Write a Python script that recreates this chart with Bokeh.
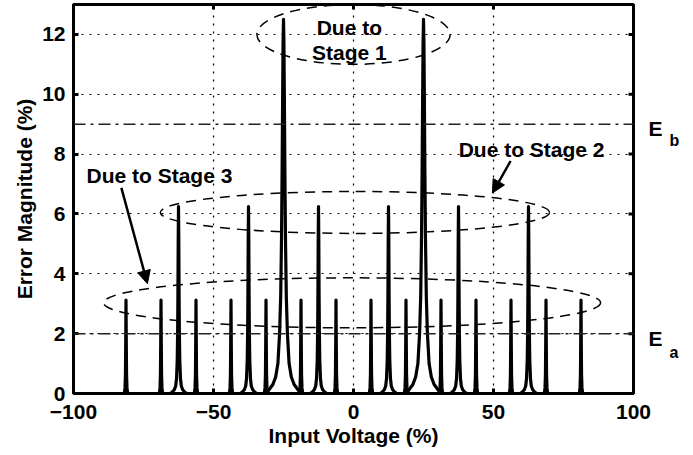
import math
from bokeh.plotting import figure
from bokeh.models import (Range1d, LinearAxis, FixedTicker, Label, Arrow,
                          NormalHead, Span)
from bokeh.embed import file_html
from bokeh.resources import INLINE

# ---------------- data ----------------
stage1_x = [-25.0, 25.0]
stage1_h = 12.5
stage2_x = [-62.5, -37.5, -12.5, 12.5, 37.5, 62.5]
stage2_h = 6.25
stage3_x = [-81.25, -68.75, -56.25, -43.75, -31.25, -18.75,
            -6.25, 6.25, 18.75, 31.25, 43.75, 56.25, 68.75, 81.25]
stage3_h = 3.125

# half-profiles of the spikes: offset from peak (% voltage), fraction of peak height
prof1_dx = [0.0, 0.15, 0.3, 0.5, 0.7, 1.0, 1.4, 2.0, 2.8, 3.8, 5.0, 6.0]
prof1_fr = [1.0, 0.94, 0.80, 0.59, 0.42, 0.26, 0.16, 0.08, 0.044, 0.024, 0.012, 0.0]
prof2_dx = [0.0, 0.1, 0.2, 0.3, 0.45, 0.7, 1.0, 1.5, 2.2, 3.0]
prof2_fr = [1.0, 0.83, 0.55, 0.34, 0.18, 0.08, 0.04, 0.02, 0.008, 0.0]
prof3_dx = [0.0, 0.1, 0.2, 0.35, 0.6]
prof3_fr = [1.0, 0.55, 0.2, 0.06, 0.0]

Ea = 2.0
Eb = 9.0
E_names = ["E", "E"]
E_subs = ["b", "a"]

X_MIN, X_MAX = -100, 100
Y_MIN, Y_MAX = 0, 13
x_ticks = [-100, -50, 0, 50, 100]
x_tick_labels = ["\u2212100", "\u221250", "0", "50", "100"]
y_ticks = [0, 2, 4, 6, 8, 10, 12]
x_grid = [-50, 0, 50]
y_grid = [2, 4, 6, 8, 10, 12]

# ellipses: center x, center y, width, height (data units)
ell_x = [0.0, 0.5, -0.5]
ell_y = [12.0, 6.05, 3.03]
ell_w = [69.0, 139.0, 177.5]
ell_h = [2.0, 1.4, 1.67]

FONT = "Liberation Sans"


def spikes(centers, h, dx, fr):
    xs, ys = [], []
    for c in centers:
        left_x = [c - d for d in reversed(dx)]
        left_y = [h * f for f in reversed(fr)]
        right_x = [c + d for d in dx[1:]]
        right_y = [h * f for f in fr[1:]]
        xs.append(left_x + right_x)
        ys.append(left_y + right_y)
    return xs, ys


p = figure(width=693, height=455, output_backend="svg", toolbar_location=None,
           x_range=Range1d(X_MIN, X_MAX), y_range=Range1d(Y_MIN, Y_MAX),
           min_border_left=73, min_border_right=60, min_border_top=4,
           min_border_bottom=62)
p.background_fill_color = "white"
p.border_fill_color = "white"
p.outline_line_color = "black"
p.outline_line_width = 3

# grid
p.xgrid.ticker = FixedTicker(ticks=x_grid)
p.ygrid.ticker = FixedTicker(ticks=y_grid)
for g in (p.xgrid, p.ygrid):
    g.grid_line_color = "black"
    g.grid_line_dash = "2 6"
    g.grid_line_width = 1.2

# axes
for ax in (p.xaxis[0], p.yaxis[0]):
    ax.axis_line_width = 3
    ax.major_tick_in = 5
    ax.major_tick_out = 0
    ax.major_tick_line_width = 3
    ax.minor_tick_line_color = None
    ax.major_label_text_font = FONT
    ax.major_label_text_font_style = "bold"
    ax.major_label_text_font_size = "21px"
    ax.major_label_text_color = "black"
    ax.axis_label_text_font = FONT
    ax.axis_label_text_font_style = "bold"
    ax.axis_label_text_font_size = "21px"
    ax.axis_label_text_color = "black"

p.xaxis.ticker = FixedTicker(ticks=x_ticks)
p.xaxis.major_label_overrides = {t: l for t, l in zip(x_ticks, x_tick_labels)}
p.xaxis.major_label_standoff = 11
p.xaxis.axis_label = "Input Voltage (%)"
p.xaxis.axis_label_standoff = 2
p.yaxis.ticker = FixedTicker(ticks=y_ticks)
p.yaxis.major_label_standoff = 8
p.yaxis.axis_label = "Error Magnitude (%)"
p.yaxis.axis_label_standoff = 3

# mirrored inward ticks on top and right (dash markers clipped by the frame)
p.scatter(x=x_grid, y=[Y_MAX] * len(x_grid), marker="dash", size=10,
          angle=math.pi / 2, line_color="black", line_width=3)
p.scatter(x=[X_MAX] * len(y_ticks), y=y_ticks, marker="dash", size=10,
          line_color="black", line_width=3)

# E labels (as right-side axis labels so they sit outside the frame)
e_ticks = [Eb - 0.15, Ea - 0.15]
e_ax = LinearAxis(ticker=FixedTicker(ticks=e_ticks),
                  major_label_overrides={t: n for t, n in zip(e_ticks, E_names)},
                  major_label_standoff=15, axis_line_color=None,
                  major_tick_in=0, major_tick_out=0,
                  minor_tick_in=0, minor_tick_out=0,
                  major_tick_line_color=None, minor_tick_line_color=None,
                  major_label_text_font=FONT, major_label_text_font_style="bold",
                  major_label_text_font_size="21px", major_label_text_color="black")
p.add_layout(e_ax, "right")
s_ticks = [Eb - 0.55, Ea - 0.62]
s_ax = LinearAxis(ticker=FixedTicker(ticks=s_ticks),
                  major_label_overrides={t: n for t, n in zip(s_ticks, E_subs)},
                  major_label_standoff=4, axis_line_color=None,
                  major_tick_in=0, major_tick_out=0,
                  minor_tick_in=0, minor_tick_out=0,
                  major_tick_line_color=None, minor_tick_line_color=None,
                  major_label_text_font=FONT, major_label_text_font_style="bold",
                  major_label_text_font_size="16px", major_label_text_color="black")
p.add_layout(s_ax, "right")

# threshold lines
for lvl in (Eb, Ea):
    p.add_layout(Span(location=lvl, dimension="width", line_color="#222222",
                      line_width=1.5, line_dash="12 5 3 5"))

# spikes
for centers, h, dx, fr in ((stage3_x, stage3_h, prof3_dx, prof3_fr),
                           (stage2_x, stage2_h, prof2_dx, prof2_fr),
                           (stage1_x, stage1_h, prof1_dx, prof1_fr)):
    xs, ys = spikes(centers, h, dx, fr)
    p.multi_line(xs, ys, line_color="black", line_width=3.2, line_join="round")

# ellipses
p.ellipse(x=ell_x, y=ell_y, width=ell_w, height=ell_h, fill_color=None,
          line_color="black", line_width=1.5, line_dash="10 7")


def lab(x, y, t):
    p.add_layout(Label(x=x, y=y, text=t, text_font=FONT, text_font_style="bold",
                       text_font_size="21px", text_align="center",
                       text_baseline="middle", text_color="black"))


lab(-1.5, 12.24, "Due to")
lab(-1.5, 11.39, "Stage 1")
lab(63.6, 8.16, "Due to Stage 2")
lab(-69.3, 7.29, "Due to Stage 3")

# arrows
p.add_layout(Arrow(x_start=-82.9, y_start=6.87, x_end=-73.6, y_end=3.67,
                   line_width=2.5, line_color="black",
                   end=NormalHead(size=13, fill_color="black", line_color="black")))
p.add_layout(Arrow(x_start=56.1, y_start=7.77, x_end=49.6, y_end=6.7,
                   line_width=2.5, line_color="black",
                   end=NormalHead(size=13, fill_color="black", line_color="black")))

open("out.html", "w").write(file_html(p, INLINE))
